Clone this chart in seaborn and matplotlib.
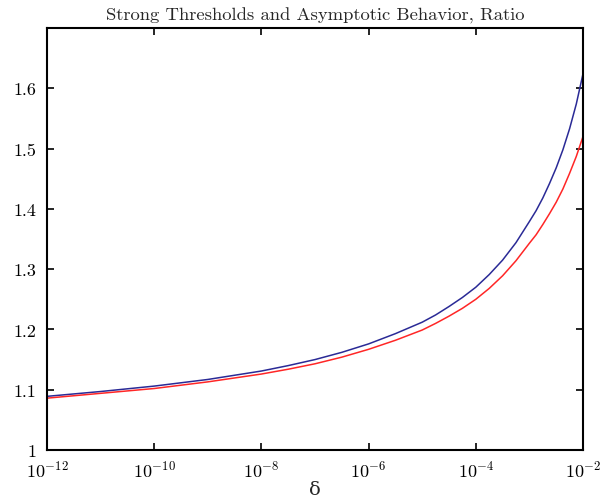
import numpy as np
import pandas as pd
import seaborn as sns
import matplotlib
matplotlib.use('Agg')
import matplotlib.pyplot as plt
from matplotlib.ticker import FuncFormatter, LogFormatterMathtext, NullLocator

# log10(delta) sample points
log_delta = [-12, -11, -10, -9, -8, -7.5, -7, -6.5, -6, -5.5, -5, -4.75, -4.5,
             -4.25, -4, -3.75, -3.5, -3.25, -3, -2.875, -2.75, -2.625, -2.5,
             -2.375, -2.25, -2.125, -2]
# ratio curves
ratio_blue = [1.089, 1.097, 1.106, 1.117, 1.131, 1.140, 1.150, 1.162, 1.176,
              1.193, 1.212, 1.224, 1.238, 1.253, 1.270, 1.291, 1.315, 1.344,
              1.379, 1.397, 1.418, 1.442, 1.468, 1.498, 1.533, 1.574, 1.624]
ratio_red = [1.086, 1.094, 1.102, 1.113, 1.126, 1.134, 1.143, 1.154, 1.167,
             1.182, 1.199, 1.210, 1.222, 1.235, 1.250, 1.268, 1.289, 1.314,
             1.343, 1.357, 1.374, 1.392, 1.411, 1.433, 1.459, 1.487, 1.520]
y_ticks = [1, 1.1, 1.2, 1.3, 1.4, 1.5, 1.6]

delta = 10.0 ** np.array(log_delta)
df = pd.concat([
    pd.DataFrame({'delta': delta, 'ratio': ratio_blue, 'curve': 'a'}),
    pd.DataFrame({'delta': delta, 'ratio': ratio_red, 'curve': 'b'}),
])

sns.set_style('ticks')
plt.rcParams['font.family'] = ['cmr10', 'DejaVu Serif']
plt.rcParams['mathtext.fontset'] = 'cm'
plt.rcParams['axes.formatter.use_mathtext'] = True

fig = plt.figure(figsize=(6.08, 5.02), dpi=100)
ax = fig.add_axes([47 / 608, 1 - 451 / 502, 536 / 608, 422 / 502])

sns.lineplot(data=df, x='delta', y='ratio', hue='curve',
             palette={'a': '#2a2a96', 'b': '#ff2626'}, linewidth=1.1,
             legend=False, ax=ax, sort=False)

ax.set_xscale('log')
ax.set_xlim(1e-12, 1e-2)
ax.set_ylim(1, 1.7)
ax.set_xticks([10.0 ** k for k in range(-12, -1, 2)])
ax.xaxis.set_major_formatter(LogFormatterMathtext())
ax.xaxis.set_minor_locator(NullLocator())
ax.set_yticks(y_ticks)
ax.yaxis.set_major_formatter(FuncFormatter(lambda v, p: '%g' % v))

for s in ax.spines.values():
    s.set_visible(True)
    s.set_linewidth(1.5)
    s.set_color('black')
ax.tick_params(direction='in', top=True, right=True, length=5, width=1.2,
               labelsize=13, colors='black')
ax.tick_params(axis='x', pad=6)
ax.tick_params(axis='y', pad=8)

ax.set_title('Strong Thresholds and Asymptotic Behavior, Ratio', fontsize=13.4, pad=6)
ax.set_xlabel('δ', fontsize=14, labelpad=1)
ax.set_ylabel('')

fig.savefig('out.png', dpi=100)
